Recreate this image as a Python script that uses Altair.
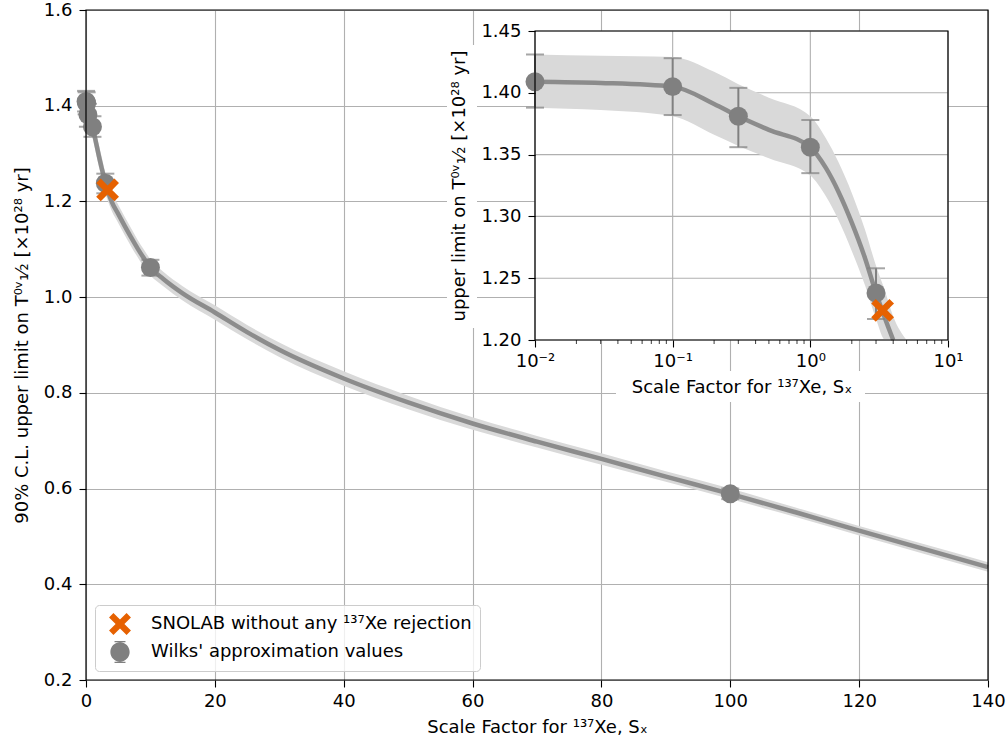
import altair as alt
import pandas as pd

FONT = "DejaVu Sans"
FS = 18

# ---------------- data ----------------
curve_x = [0.01, 0.03, 0.1, 0.2, 0.3, 0.5, 1.0, 1.3, 1.6, 2.0, 2.5, 3.0, 3.5, 4.0,
           5.0, 6.0, 7.0, 8.0, 9.0, 10, 12, 15, 20, 25, 30, 40, 50, 60, 70, 80,
           90, 100, 110, 120, 130, 140]
curve_y = [1.409, 1.408, 1.405, 1.391, 1.381, 1.370, 1.356, 1.339, 1.320, 1.295,
           1.266, 1.238, 1.217, 1.199, 1.174, 1.149, 1.125, 1.102, 1.081, 1.062,
           1.038, 1.008, 0.968, 0.927, 0.890, 0.830, 0.780, 0.736, 0.698, 0.662,
           0.625, 0.589, 0.551, 0.512, 0.474, 0.436]
band_lo = [1.388, 1.386, 1.381, 1.366, 1.357, 1.347, 1.333, 1.316, 1.297, 1.272,
           1.244, 1.217, 1.197, 1.180, 1.155, 1.130, 1.106, 1.084, 1.063, 1.045,
           1.023, 0.993, 0.953, 0.912, 0.875, 0.815, 0.766, 0.723, 0.686, 0.650,
           0.614, 0.578, 0.541, 0.502, 0.464, 0.426]
band_hi = [1.431, 1.430, 1.429, 1.417, 1.407, 1.396, 1.381, 1.363, 1.344, 1.319,
           1.289, 1.260, 1.239, 1.219, 1.193, 1.168, 1.144, 1.120, 1.099, 1.079,
           1.053, 1.023, 0.983, 0.942, 0.905, 0.845, 0.794, 0.749, 0.710, 0.674,
           0.636, 0.600, 0.561, 0.522, 0.484, 0.446]

wilks_x = [0.01, 0.1, 0.3, 1.0, 3.0, 10.0, 100.0]
wilks_y = [1.409, 1.405, 1.381, 1.356, 1.238, 1.062, 0.589]
wilks_lo = [1.388, 1.382, 1.356, 1.335, 1.217, 1.045, 0.578]
wilks_hi = [1.431, 1.428, 1.404, 1.378, 1.258, 1.078, 0.600]

snolab_x = [3.35]
snolab_y = [1.224]

SNOLAB_LABEL = "SNOLAB without any \u00b9\u00b3\u2077Xe rejection"
WILKS_LABEL = "Wilks' approximation values"
series_names = [SNOLAB_LABEL, WILKS_LABEL]
series_colors = ["#e66101", "#808080"]

main_x_domain = [0, 140]
main_y_domain = [0.2, 1.6]
main_x_ticks = [0, 20, 40, 60, 80, 100, 120, 140]
main_y_ticks = [0.2, 0.4, 0.6, 0.8, 1.0, 1.2, 1.4, 1.6]

inset_x_domain = [0.01, 10]
inset_y_domain = [1.20, 1.45]
inset_x_ticks = [0.01, 0.1, 1, 10]
inset_x_minor = [0.02, 0.03, 0.04, 0.05, 0.06, 0.07, 0.08, 0.09,
                 0.2, 0.3, 0.4, 0.5, 0.6, 0.7, 0.8, 0.9,
                 2, 3, 4, 5, 6, 7, 8, 9]
inset_y_ticks = [1.20, 1.25, 1.30, 1.35, 1.40, 1.45]

X_TITLE = "Scale Factor for \u00b9\u00b3\u2077Xe, S\u2093"
Y_TITLE = "90% C.L. upper limit on T\u2070\u1d5b\u2081\u2044\u2082 [\u00d710\u00b2\u2078 yr]"
INSET_Y_TITLE = "upper limit on T\u2070\u1d5b\u2081\u2044\u2082 [\u00d710\u00b2\u2078 yr]"

# marker shapes (unit square -1..1)
X_PATH = ("M-1,-0.6L-0.6,-1L0,-0.4L0.6,-1L1,-0.6L0.4,0L1,0.6L0.6,1L0,0.4"
          "L-0.6,1L-1,0.6L-0.4,0Z")
WILKS_LEGEND_PATH = ("M-0.88,0A0.88,0.88,0,1,0,0.88,0A0.88,0.88,0,1,0,-0.88,0Z"
                     "M-0.5,-1L0.5,-1L0.5,-0.9L-0.5,-0.9Z"
                     "M-0.5,0.9L0.5,0.9L0.5,1L-0.5,1Z")

# ---------------- tables ----------------
curve = pd.DataFrame({"x": curve_x, "y": curve_y, "lo": band_lo, "hi": band_hi})
wilks = pd.DataFrame({"x": wilks_x, "y": wilks_y, "lo": wilks_lo, "hi": wilks_hi})
snolab = pd.DataFrame({"x": snolab_x, "y": snolab_y})
legend_df = pd.DataFrame({"series": series_names, "x": [snolab_x[0], wilks_x[0]],
                          "y": [snolab_y[0], wilks_y[0]]})
main_box = pd.DataFrame({"x0": [main_x_domain[0]], "x1": [main_x_domain[1]],
                         "y0": [main_y_domain[0]], "y1": [main_y_domain[1]]})
inset_box = pd.DataFrame({"x0": [inset_x_domain[0]], "x1": [inset_x_domain[1]],
                          "y0": [inset_y_domain[0]], "y1": [inset_y_domain[1]]})
inset_vgrid = pd.DataFrame({"x": inset_x_ticks, "y0": inset_y_domain[0],
                            "y1": inset_y_domain[1]})
inset_hgrid = pd.DataFrame({"y": inset_y_ticks, "x0": inset_x_domain[0],
                            "x1": inset_x_domain[1]})
inset_minor = pd.DataFrame({"x": inset_x_minor, "y": inset_y_domain[0]})
one = pd.DataFrame({"a": [0]})

W, H = 902, 670

# ---------------- scales & axes ----------------
ax_common = dict(labelFont=FONT, labelFontSize=FS, labelColor="black",
                 titleFont=FONT, titleFontSize=FS, titleFontWeight="normal",
                 titleColor="black", tickColor="black", tickSize=7, tickWidth=1.1,
                 domain=False, labelFlush=False)

xs_main = alt.Scale(domain=main_x_domain, nice=False, zero=False)
ys_main = alt.Scale(domain=main_y_domain, nice=False, zero=False)
main_x_axis = alt.Axis(values=main_x_ticks, format="d", title=X_TITLE, orient="bottom",
                       grid=True, gridColor="#b0b0b0", gridWidth=1.1, titlePadding=8,
                       labelPadding=5, **ax_common)
main_y_axis = alt.Axis(values=main_y_ticks, format=".1f", title=Y_TITLE, orient="left",
                       grid=True, gridColor="#b0b0b0", gridWidth=1.1, titlePadding=12,
                       labelPadding=7, **ax_common)

xs_in = alt.Scale(type="log", domain=inset_x_domain, range=[449, 862], nice=False)
ys_in = alt.Scale(domain=inset_y_domain, range=[330, 21], nice=False, zero=False,
                  clamp=True)
inset_x_axis = alt.Axis(values=inset_x_ticks, title=X_TITLE, orient="bottom",
                        offset=-340, grid=False, zindex=1, titlePadding=8,
                        labelPadding=5,
                        labelExpr=("datum.value < 0.05 ? '10\u207b\u00b2' : "
                                   "datum.value < 0.5 ? '10\u207b\u00b9' : "
                                   "datum.value < 5 ? '10\u2070' : '10\u00b9'"),
                        **ax_common)
inset_y_axis = alt.Axis(values=inset_y_ticks, format=".2f", title=INSET_Y_TITLE,
                        orient="left", offset=-449, grid=False, zindex=1,
                        titlePadding=12, labelPadding=7, **ax_common)


def MX(f="x"):
    return alt.X(f"{f}:Q", scale=xs_main, axis=main_x_axis)


def MY(f="y"):
    return alt.Y(f"{f}:Q", scale=ys_main, axis=main_y_axis)


def IX(f="x"):
    return alt.X(f"{f}:Q", scale=xs_in, axis=inset_x_axis)


def IY(f="y"):
    return alt.Y(f"{f}:Q", scale=ys_in, axis=inset_y_axis)


legend = alt.Legend(title=None, orient="none", legendX=9, legendY=595,
                    fillColor="rgba(255,255,255,0.8)", strokeColor="#cccccc",
                    cornerRadius=4, padding=8, symbolSize=480, symbolOffset=6,
                    labelOffset=20, labelFont=FONT, labelFontSize=FS,
                    labelColor="black", rowPadding=6, symbolStrokeWidth=0,
                    symbolOpacity=1, labelLimit=600)
color_enc = alt.Color("series:N", scale=alt.Scale(domain=series_names,
                                                  range=series_colors), legend=legend)
shape_enc = alt.Shape("series:N", scale=alt.Scale(domain=series_names,
                                                  range=[X_PATH, WILKS_LEGEND_PATH]),
                      legend=legend)

GRAY_LINE = "#8c8c8c"
GRAY_PT = "#808080"
BAND = "#d9d9d9"

# ---------------- main plot ----------------
m_band = alt.Chart(curve).mark_area(color=BAND, interpolate="monotone").encode(
    x=MX(), y=MY("lo"), y2="hi:Q")
m_line = alt.Chart(curve).mark_line(color=GRAY_LINE, strokeWidth=4.5,
                                    interpolate="monotone").encode(x=MX(), y=MY())
m_err = alt.Chart(wilks).mark_rule(color=GRAY_PT, strokeWidth=2).encode(
    x=MX(), y=MY("lo"), y2="hi:Q")
m_cap_lo = alt.Chart(wilks).mark_tick(orient="horizontal", size=18, thickness=2,
                                      color=GRAY_PT).encode(x=MX(), y=MY("lo"))
m_cap_hi = alt.Chart(wilks).mark_tick(orient="horizontal", size=18, thickness=2,
                                      color=GRAY_PT).encode(x=MX(), y=MY("hi"))
m_pts = alt.Chart(wilks).mark_point(filled=True, size=360, opacity=1, shape="circle",
                                    color=GRAY_PT).encode(x=MX(), y=MY())
m_x = alt.Chart(snolab).mark_point(filled=True, size=520, opacity=1, shape=X_PATH,
                                   color=series_colors[0]).encode(x=MX(), y=MY())
# invisible layer that only carries the legend
m_leg = alt.Chart(legend_df).mark_point(filled=True, size=480, opacity=0).encode(
    x=MX(), y=MY(), color=color_enc, shape=shape_enc)
m_frame = alt.Chart(main_box).mark_rect(fillOpacity=0, stroke="black",
                                        strokeWidth=1.2).encode(
    x=MX("x0"), x2="x1:Q", y=MY("y0"), y2="y1:Q")
# white backgrounds behind the inset's axis titles
m_tbox_y = alt.Chart(one).mark_rect(color="white").encode(
    x=alt.value(361), x2=alt.value(391), y=alt.value(35), y2=alt.value(318))
m_tbox_x = alt.Chart(one).mark_rect(color="white").encode(
    x=alt.value(530), x2=alt.value(779), y=alt.value(361), y2=alt.value(392))

main = alt.layer(m_band, m_line, m_err, m_cap_lo, m_cap_hi, m_pts, m_x, m_leg,
                 m_frame, m_tbox_y, m_tbox_x)

# ---------------- inset ----------------
i_bg = alt.Chart(inset_box).mark_rect(color="white").encode(
    x=IX("x0"), x2="x1:Q", y=IY("y0"), y2="y1:Q")
i_vgrid = alt.Chart(inset_vgrid).mark_rule(color="#b0b0b0", strokeWidth=1.1).encode(
    x=IX(), y=IY("y0"), y2="y1:Q")
i_hgrid = alt.Chart(inset_hgrid).mark_rule(color="#b0b0b0", strokeWidth=1.1).encode(
    y=IY(), x=IX("x0"), x2="x1:Q")
i_band = alt.Chart(curve).transform_filter("datum.x <= 5").mark_area(
    color=BAND, interpolate="monotone").encode(x=IX(), y=IY("lo"), y2="hi:Q")
i_line = alt.Chart(curve).transform_filter("datum.x <= 4").mark_line(
    color=GRAY_LINE, strokeWidth=4.5, interpolate="monotone").encode(x=IX(), y=IY())
w_in = alt.Chart(wilks).transform_filter("datum.x <= 10 && datum.y >= 1.2")
i_err = w_in.mark_rule(color=GRAY_PT, strokeWidth=2).encode(x=IX(), y=IY("lo"),
                                                              y2="hi:Q")
i_cap_lo = w_in.mark_tick(orient="horizontal", size=18, thickness=2,
                          color=GRAY_PT).encode(x=IX(), y=IY("lo"))
i_cap_hi = w_in.mark_tick(orient="horizontal", size=18, thickness=2,
                          color=GRAY_PT).encode(x=IX(), y=IY("hi"))
i_pts = w_in.mark_point(filled=True, size=360, opacity=1, shape="circle",
                        color=GRAY_PT).encode(x=IX(), y=IY())
i_x = alt.Chart(snolab).mark_point(filled=True, size=520, opacity=1, shape=X_PATH,
                                   color=series_colors[0]).encode(x=IX(), y=IY())
i_frame = alt.Chart(inset_box).mark_rect(fillOpacity=0, stroke="black",
                                         strokeWidth=1.2).encode(
    x=IX("x0"), x2="x1:Q", y=IY("y0"), y2="y1:Q")
i_minor = alt.Chart(inset_minor).mark_tick(orient="vertical", size=4, thickness=1.1,
                                           color="black", yOffset=2).encode(
    x=IX(), y=IY())

inset = alt.layer(i_bg, i_vgrid, i_hgrid, i_band, i_line, i_err, i_cap_lo, i_cap_hi,
                  i_pts, i_x, i_frame, i_minor)

chart = alt.layer(main, inset).resolve_scale(
    x="independent", y="independent"
).properties(
    width=W, height=H,
    padding={"left": 86, "top": 10, "right": 20, "bottom": 60},
    autosize=alt.AutoSizeParams(type="none"),
    background="white",
).configure_view(strokeWidth=0).configure(font=FONT)

chart.save("out.html", embed_options={"renderer": "svg", "actions": False})
